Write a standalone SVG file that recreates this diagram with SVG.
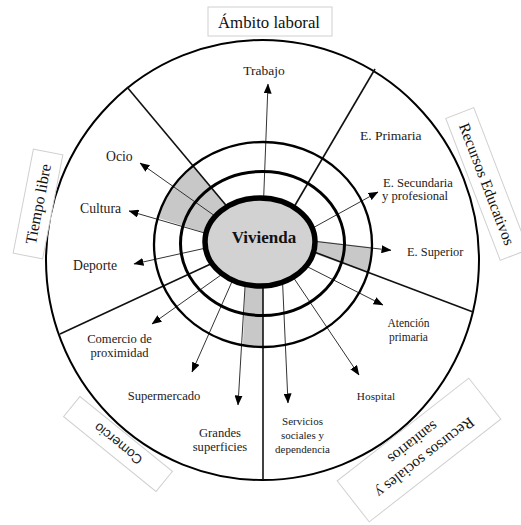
<svg xmlns="http://www.w3.org/2000/svg" width="521" height="525" viewBox="0 0 521 525">
<style>
.lbl{font-family:"Liberation Serif","Times New Roman",serif;fill:#222;}
.cat{font-family:"Liberation Serif","Times New Roman",serif;fill:#111;font-size:16px;}
.box{fill:#fff;stroke:#d0d0d0;stroke-width:1;}
.bnd{stroke:#111;stroke-width:1.6;fill:none;}
.arr{stroke:#333;stroke-width:1;fill:none;marker-end:url(#ah);}
.ring{fill:none;stroke:#000;}
.gray{fill:#c8c8c8;}
</style>
<defs>
<marker id="ah" markerWidth="10" markerHeight="8" refX="9.5" refY="4" orient="auto" markerUnits="userSpaceOnUse">
<path d="M0,0 L10,4 L0,8 z" fill="#000"/>
</marker>
<clipPath id="ringClip"><ellipse cx="263" cy="244.5" rx="109" ry="102.5"/></clipPath>
</defs>
<rect width="521" height="525" fill="#fff"/>

<g id="outer-circle">
<ellipse cx="262.5" cy="260" rx="216.5" ry="220" fill="#fff" stroke="#000" stroke-width="2"/>
</g>

<g id="shaded" clip-path="url(#ringClip)">
<polygon class="gray" points="258,243 110,65 90,196 215,236"/>
<polygon class="gray" points="260,234 480,260 470,310"/>
<polygon class="gray" points="247,240 263,240 263,420 240,420"/>
</g>

<g id="connectors">
<g id="boundaries">
<line class="bnd" x1="240" y1="222" x2="127" y2="87"/>
<line class="bnd" x1="284" y1="224" x2="375" y2="69"/>
<line class="bnd" x1="215" y1="262" x2="60" y2="334"/>
<line class="bnd" x1="263" y1="270" x2="263" y2="480"/>
<line class="bnd" x1="305" y1="248.5" x2="473" y2="312"/>
</g>
<g id="arrows">
<line class="arr" x1="263" y1="215" x2="268" y2="84"/>
<line class="arr" x1="300" y1="235" x2="378" y2="192"/>
<line class="arr" x1="300" y1="239.6" x2="391" y2="250.3"/>
<line class="arr" x1="300" y1="263" x2="383" y2="305"/>
<line class="arr" x1="285" y1="265" x2="359" y2="375"/>
<line class="arr" x1="282" y1="270" x2="288" y2="403"/>
<line class="arr" x1="246" y1="270" x2="238" y2="405"/>
<line class="arr" x1="238" y1="268" x2="192" y2="372"/>
<line class="arr" x1="228" y1="270" x2="152" y2="324"/>
<line class="arr" x1="215" y1="246" x2="134" y2="264"/>
<line class="arr" x1="215" y1="236" x2="129" y2="211"/>
<line class="arr" x1="222" y1="221" x2="140" y2="163"/>
</g>
</g>

<g id="rings">
<ellipse class="ring" cx="263" cy="244.5" rx="109" ry="102.5" stroke-width="2.3"/>
<ellipse class="ring" cx="262.5" cy="243.5" rx="82" ry="72" stroke-width="3"/>
</g>

<g id="vivienda">
<ellipse cx="260" cy="242" rx="55" ry="44" fill="#d3d2d3" stroke="#000" stroke-width="5.5"/>
<text x="264" y="243" text-anchor="middle" class="lbl" style="font-size:17px;font-weight:bold;fill:#111">Vivienda</text>
</g>

<g id="labels">
<text class="lbl" x="264" y="75" text-anchor="middle" font-size="13.5">Trabajo</text>
<text class="lbl" x="360" y="140" font-size="13.5">E. Primaria</text>
<text class="lbl" x="383" y="187" font-size="12.6">E. Secundaria</text>
<text class="lbl" x="382" y="200" font-size="12.6">y profesional</text>
<text class="lbl" x="407" y="256" font-size="12.4">E. Superior</text>
<text class="lbl" x="408.5" y="327" text-anchor="middle" font-size="11.5">Atención</text>
<text class="lbl" x="408.5" y="341" text-anchor="middle" font-size="11.5">primaria</text>
<text class="lbl" x="376" y="400" text-anchor="middle" font-size="11.3">Hospital</text>
<text class="lbl" x="302.5" y="425" text-anchor="middle" font-size="11">Servicios</text>
<text class="lbl" x="302.5" y="439" text-anchor="middle" font-size="11">sociales y</text>
<text class="lbl" x="302.5" y="453" text-anchor="middle" font-size="11">dependencia</text>
<text class="lbl" x="220" y="437" text-anchor="middle" font-size="12.6">Grandes</text>
<text class="lbl" x="220" y="451" text-anchor="middle" font-size="12.6">superficies</text>
<text class="lbl" x="164" y="400" text-anchor="middle" font-size="12.6">Supermercado</text>
<text class="lbl" x="119.5" y="343" text-anchor="middle" font-size="12.6">Comercio de</text>
<text class="lbl" x="119.5" y="357" text-anchor="middle" font-size="12.6">proximidad</text>
<text class="lbl" x="73" y="270" font-size="13.7">Deporte</text>
<text class="lbl" x="80" y="213" font-size="13.7">Cultura</text>
<text class="lbl" x="106" y="161" font-size="13.7">Ocio</text>
</g>

<g id="ambito-laboral">
<rect class="box" x="208" y="7" width="124" height="29"/>
<text class="cat" x="269" y="28" text-anchor="middle" font-size="16.8" style="font-size:16.8px">Ámbito laboral</text>
</g>

<g id="tiempo-libre" transform="translate(38,204) rotate(-79)">
<rect class="box" x="-53" y="-15" width="106" height="30"/>
<text class="cat" x="0" y="5.5" text-anchor="middle" style="font-size:15.8px">Tiempo libre</text>
</g>

<g id="recursos-educativos" transform="translate(487,184) rotate(69)">
<rect class="box" x="-76" y="-15" width="152" height="30"/>
<text class="cat" x="0" y="5.5" text-anchor="middle" style="font-size:15.5px">Recursos Educativos</text>
</g>

<g id="comercio" transform="translate(118,444) rotate(219)">
<rect class="box" x="-59.5" y="-13" width="119" height="26"/>
<text x="0" y="5" text-anchor="middle" style="font-family:'Liberation Sans',Arial,sans-serif;font-size:13.5px;fill:#222">Comercio</text>
</g>

<g id="recursos-sociales" transform="translate(419,450) rotate(142)">
<rect class="box" x="-83.5" y="-26" width="167" height="52"/>
<text class="cat" x="0" y="-4.5" text-anchor="middle" style="font-size:15.4px">Recursos sociales y</text>
<text class="cat" x="0" y="14.5" text-anchor="middle" style="font-size:15.4px">sanitarios</text>
</g>
</svg>
